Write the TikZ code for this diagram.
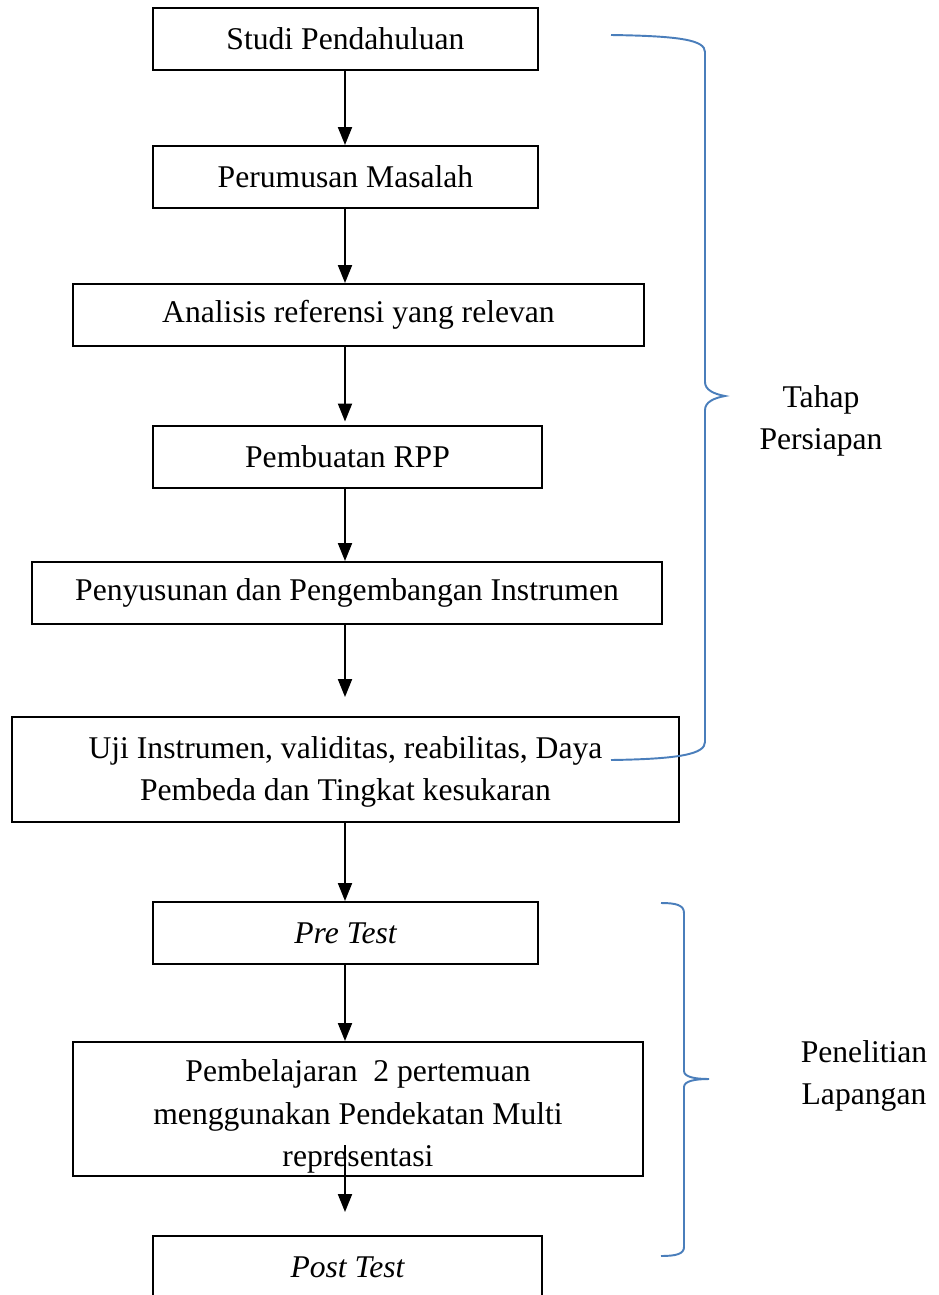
\documentclass[tikz,border=0pt]{standalone}
\usepackage{fontspec}
\setmainfont{Liberation Serif}
\usetikzlibrary{arrows.meta}
\definecolor{braceblue}{RGB}{74,126,187}

\begin{document}
\begin{tikzpicture}[x=0.02cm,y=-0.02cm,
    stepbox/.style={draw,line width=1.1pt,minimum height=1.24cm,inner sep=2pt,
      font=\fontsize{18}{24}\selectfont,align=center},
    arr/.style={line width=1.1pt,-{Triangle[length=3.6mm,width=2.8mm]}},
    brace/.style={draw=braceblue,line width=1.1pt},
    sidetext/.style={font=\fontsize{18}{24}\selectfont,align=center}]
  \useasboundingbox (0,0) rectangle (938,1295);
  \clip (0,0) rectangle (938,1295);

  % kotak alur
  \node[stepbox,minimum width=7.7cm]  (studi)  at (345.5,39)  {Studi Pendahuluan};
  \node[stepbox,minimum width=7.7cm]  (rumus)  at (345.5,177) {Perumusan Masalah};
  \node[stepbox,minimum width=11.42cm] (ref)   at (358.5,315) {Analisis referensi yang relevan};
  \node[stepbox,minimum width=7.78cm] (rpp)    at (347.5,457) {Pembuatan RPP};
  \node[stepbox,minimum width=12.6cm] (susun)  at (347,593)   {Penyusunan dan Pengembangan Instrumen};
  \node[stepbox,minimum width=13.34cm,minimum height=2.1cm] (uji) at (345.5,769.5)
    {\rule{0pt}{15.5pt}Uji Instrumen, validitas, reabilitas, Daya\\Pembeda dan Tingkat kesukaran};
  \node[stepbox,minimum width=7.7cm]  (pre)    at (345.5,933) {\itshape Pre Test};
  \node[stepbox,inner sep=0pt,minimum width=11.4cm,minimum height=2.68cm] (ajar) at (358,1109)
    {\rule{0pt}{21pt}Pembelajaran\ \ 2 pertemuan\\menggunakan Pendekatan Multi\\representasi};
  \node[stepbox,minimum width=7.78cm] (post)   at (347.5,1267) {\itshape Post Test};

  % panah
  \coordinate (axis) at (345,0);
  \coordinate (ajarin) at (345,1145);
  \draw[arr] (axis |- studi.south) -- (axis |- rumus.north);
  \draw[arr] (axis |- rumus.south) -- (axis |- ref.north);
  \draw[arr,shorten >=2pt] (axis |- ref.south) -- (axis |- rpp.north);
  \draw[arr] (axis |- rpp.south) -- (axis |- susun.north);
  \draw[arr,shorten >=0.38cm] (axis |- susun.south) -- (axis |- uji.north);
  \draw[arr] (axis |- uji.south) -- (axis |- pre.north);
  \draw[arr] (axis |- pre.south) -- (axis |- ajar.north);
  \draw[arr,shorten >=0.46cm] (ajarin) -- (axis |- post.north);

  % kurung kurawal
  \draw[brace] (611,35) .. controls (680,36) and (705,40) .. (705,52)
    -- (705,382) .. controls (705,390) and (714,394) .. (725,396)
    .. controls (714,398) and (705,402) .. (705,410)
    -- (705,742) .. controls (705,754) and (680,759) .. (611,760);
  \draw[brace] (661,903) .. controls (676,903) and (684,905) .. (684,913)
    -- (684,1071) .. controls (684,1077) and (695,1079) .. (709,1079)
    .. controls (695,1079) and (684,1081) .. (684,1087)
    -- (684,1247) .. controls (684,1254) and (676,1256) .. (661,1256);

  \node[sidetext] (tahap) at (821,421) {Tahap\\Persiapan};
  \node[sidetext] (lapangan) at (864,1076) {Penelitian\\Lapangan};
\end{tikzpicture}
\end{document}
